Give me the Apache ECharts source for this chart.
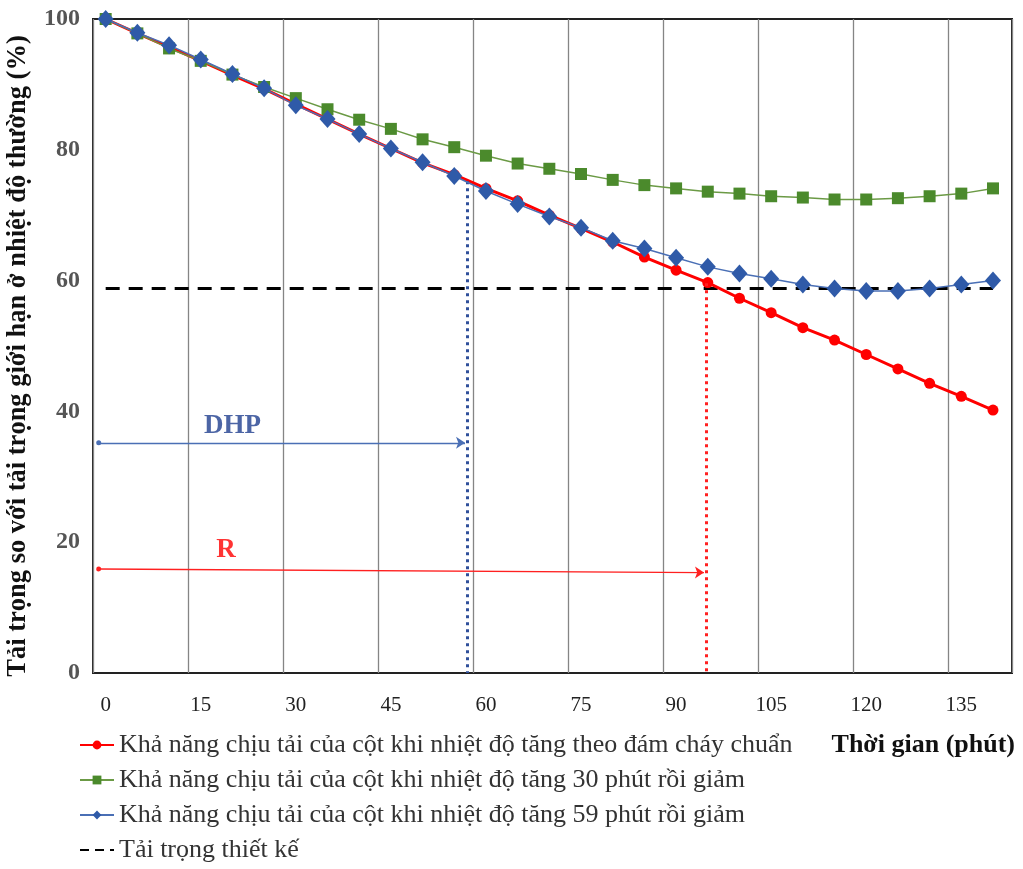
<!DOCTYPE html>
<html>
<head>
<meta charset="utf-8">
<script src="https://cdn.jsdelivr.net/npm/echarts@6/dist/echarts.min.js"></script>
<style>
  html, body { margin: 0; padding: 0; background: #fff; }
  #chart { width: 1023px; height: 869px; }
</style>
</head>
<body>
<div id="chart"></div>
<script>
// Time (minutes) of each computed point
const timeMin = [0, 5, 10, 15, 20, 25, 30, 35, 40, 45, 50, 55, 60, 65, 70,
                 75, 80, 85, 90, 95, 100, 105, 110, 115, 120, 125, 130, 135, 140];

// Load-bearing capacity relative to the ambient-temperature limit load (%)
const standardFire = [100, 97.8, 95.7, 93.6, 91.4, 89.3, 87.0, 84.7, 82.4, 80.2, 78.0, 76.2, 74.1, 72.2, 70.0,
                      68.0, 65.9, 63.6, 61.6, 59.7, 57.3, 55.1, 52.8, 50.9, 48.7, 46.5, 44.3, 42.3, 40.2];
const heat30Cool = [100, 97.8, 95.5, 93.6, 91.5, 89.6, 87.9, 86.2, 84.6, 83.2, 81.6, 80.4, 79.1, 77.9, 77.1,
                    76.3, 75.4, 74.6, 74.1, 73.6, 73.3, 72.9, 72.7, 72.4, 72.4, 72.6, 72.9, 73.3, 74.1];
const heat59Cool = [100, 97.9, 96.0, 93.8, 91.6, 89.4, 86.8, 84.7, 82.4, 80.2, 78.1, 76.0, 73.7, 71.7, 69.8,
                    68.1, 66.1, 64.9, 63.5, 62.1, 61.1, 60.3, 59.4, 58.8, 58.4, 58.4, 58.8, 59.4, 60.0];
const designLoad = 58.8;

// Axis tick labels
const xTickLabels = [0, 15, 30, 45, 60, 75, 90, 105, 120, 135];
const yTickLabels = [0, 20, 40, 60, 80, 100];

// Series names
const seriesNames = [
  'Khả năng chịu tải của cột khi nhiệt độ tăng theo đám cháy chuẩn',
  'Khả năng chịu tải của cột khi nhiệt độ tăng 30 phút rồi giảm',
  'Khả năng chịu tải của cột khi nhiệt độ tăng 59 phút rồi giảm',
  'Tải trọng thiết kế'
];

// Annotated times: DHP (heating duration) and R (fire resistance)
const dhpTime = 57.0, dhpLevel = 75.2, dhpArrowY = 35.2;
const rTime = 94.7, rLevel = 59.6, rArrowY = [15.9, 15.35];
const arrowStart = -1.1;
const dhpText = { label: 'DHP', at: [20.0, 37.8] };
const rText = { label: 'R', at: [19.0, 18.8] };

const pairs = (vals) => timeMin.map((t, i) => [t, vals[i]]);
const serif = '"Liberation Serif", "Times New Roman", serif';

const chart = echarts.init(document.getElementById('chart'), null, { renderer: 'canvas' });

chart.setOption({
  animation: false,
  backgroundColor: '#ffffff',
  title: {
    text: 'Thời gian (phút)',
    right: 3,
    top: 727,
    textStyle: { fontFamily: serif, fontSize: 26, fontWeight: 'bold', color: '#111' }
  },
  legend: {
    data: seriesNames.slice(0, 3).concat([
      { name: seriesNames[3], itemStyle: { opacity: 0 }, lineStyle: { type: [9, 6] } }
    ]),
    orient: 'vertical',
    left: 74,
    top: 727,
    itemGap: 9,
    itemWidth: 34,
    itemHeight: 11,
    textStyle: { fontFamily: serif, fontSize: 26, color: '#333' }
  },
  grid: {
    left: 93, right: 11, top: 19, bottom: 196,
    outerBoundsMode: 'none',
    show: true, borderColor: '#222', borderWidth: 2, backgroundColor: 'transparent'
  },
  xAxis: [
    {
      type: 'value', min: -2, max: 143,
      axisLine: { show: false },
      axisTick: { show: false },
      splitLine: { show: false },
      axisLabel: {
        customValues: xTickLabels,
        margin: 22,
        fontFamily: serif, fontSize: 21, color: '#222'
      }
    },
    {
      // vertical grid lines every 15 min, starting 2 min before t = 0
      type: 'value', min: 0, max: 145, interval: 15,
      position: 'bottom',
      axisLine: { show: false }, axisTick: { show: false }, axisLabel: { show: false },
      splitLine: { show: true, lineStyle: { color: '#858585', width: 1.3 } }
    }
  ],
  yAxis: {
    type: 'value', min: 0, max: 100, interval: 20,
    name: 'Tải trọng so với tải trọng giới hạn ở nhiệt độ thường (%)',
    nameLocation: 'middle', nameGap: 61, nameRotate: 90,
    nameTextStyle: { fontFamily: serif, fontSize: 26.5, fontWeight: 'bold', color: '#111',
                     padding: [0, 20, 0, 0] },
    axisLine: { show: false, onZero: false },
    axisTick: { show: false },
    splitLine: { show: false },
    axisLabel: {
      customValues: yTickLabels,
      margin: 13,
      fontFamily: serif, fontSize: 24, fontWeight: 'bold', color: '#555'
    }
  },
  series: [
    {
      name: seriesNames[0], type: 'line', xAxisIndex: 0,
      data: pairs(standardFire),
      symbol: 'circle', symbolSize: 11,
      lineStyle: { color: '#ff0000', width: 3 },
      itemStyle: { color: '#ff0000' },
      z: 3
    },
    {
      name: seriesNames[1], type: 'line', xAxisIndex: 0,
      data: pairs(heat30Cool),
      symbol: 'rect', symbolSize: 12,
      lineStyle: { color: '#6b9a45', width: 1.5 },
      itemStyle: { color: '#4b8a2c' },
      z: 4
    },
    {
      name: seriesNames[2], type: 'line', xAxisIndex: 0,
      data: pairs(heat59Cool),
      symbol: 'diamond', symbolSize: [16, 18],
      lineStyle: { color: '#4a6fb5', width: 1.5 },
      itemStyle: { color: '#2f5aa8' },
      z: 5
    },
    {
      name: seriesNames[3], type: 'line', xAxisIndex: 0,
      data: timeMin.map((t) => [t, designLoad]),
      symbol: 'none',
      lineStyle: { color: '#000', width: 3, type: [14, 9] },
      itemStyle: { color: '#000' },
      z: 2
    },
    {
      // DHP and R annotations: vertical dotted markers and span arrows
      name: 'annotations', type: 'line', xAxisIndex: 0, data: [],
      silent: true, z: 6,
      markLine: {
        silent: true, animation: false,
        label: { show: false },
        symbol: 'none',
        data: [
          [
            { coord: [dhpTime, dhpLevel], lineStyle: { color: '#2f4f9a', width: 3, type: [3, 4] } },
            { coord: [dhpTime, 0] }
          ],
          [
            { coord: [rTime, rLevel], lineStyle: { color: '#ff2020', width: 3, type: [3, 4] } },
            { coord: [rTime, 0] }
          ],
          [
            { coord: [arrowStart, dhpArrowY], symbol: 'circle', symbolSize: 5,
              lineStyle: { color: '#4a6fb5', width: 1.3, type: 'solid' } },
            { coord: [dhpTime - 0.3, dhpArrowY], symbol: 'arrow', symbolSize: 9 }
          ],
          [
            { coord: [arrowStart, rArrowY[0]], symbol: 'circle', symbolSize: 5,
              lineStyle: { color: '#ff2020', width: 1.3, type: 'solid' } },
            { coord: [rTime - 0.3, rArrowY[1]], symbol: 'arrow', symbolSize: 9 }
          ]
        ]
      }
    },
    {
      name: 'labels', type: 'scatter', xAxisIndex: 0,
      silent: true, symbolSize: 0, z: 7,
      data: [
        { value: dhpText.at, name: dhpText.label,
          label: { color: '#1f3f8f' } },
        { value: rText.at, name: rText.label,
          label: { color: '#ff0000' } }
      ],
      label: {
        show: true, position: 'inside', formatter: '{b}',
        fontFamily: serif, fontSize: 27, fontWeight: 'bold'
      }
    }
  ]
});
</script>
</body>
</html>
